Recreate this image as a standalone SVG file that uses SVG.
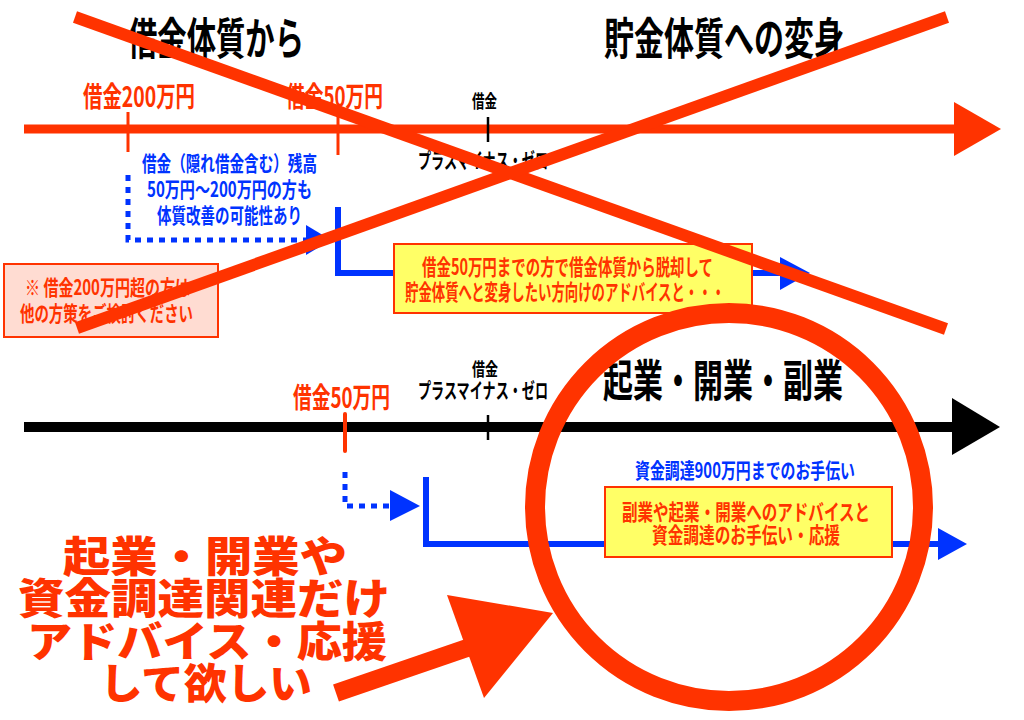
<svg xmlns="http://www.w3.org/2000/svg" width="1024" height="720" viewBox="0 0 1024 720">
<style>
text{font-family:"Noto Sans CJK JP","Noto Sans",sans-serif;font-weight:bold}
.blk{fill:#000}
.red{fill:#ff3300}
.blu{fill:#0033ff}
.big{font-weight:900;fill:#ff3300}
.box1{fill:#ffff66;stroke:#ff3300;stroke-width:2}
.pink{fill:#ffdcd2;stroke:#ff3300;stroke-width:2}
.dot{fill:none;stroke:#0033ff;stroke-width:5;stroke-dasharray:6 6}
.sol{fill:none;stroke:#0033ff;stroke-width:6}
.xl{stroke:#ff3300;stroke-width:12}
</style>
<rect width="1024" height="720" fill="#fff"/>

<g id="titles">
<text class="blk" x="128" y="55" font-size="44" textLength="176" lengthAdjust="spacingAndGlyphs">借金体質から</text>
<text class="blk" x="604" y="55" font-size="44" textLength="240" lengthAdjust="spacingAndGlyphs">貯金体質への変身</text>
</g>

<g id="connectors">
<!-- top timeline -->
<line x1="24" y1="129" x2="956" y2="129" stroke="#ff3300" stroke-width="9"/>
<polygon points="954,102 1001,129 954,156" fill="#ff3300"/>
<line x1="128" y1="112" x2="128" y2="152" stroke="#ff3300" stroke-width="3"/>
<line x1="338" y1="112" x2="338" y2="155" stroke="#ff3300" stroke-width="3"/>
<line x1="488" y1="117" x2="488" y2="142" stroke="#000" stroke-width="2.5"/>
<path class="dot" d="M128,175 V240 H306"/>
<polygon points="306,225 331,240 306,255" fill="#0033ff"/>
<path class="sol" d="M338,207 V273 H782"/>
<polygon points="780,257 810,273 780,290" fill="#0033ff"/>
<!-- bottom timeline -->
<line x1="24" y1="427" x2="954" y2="427" stroke="#000" stroke-width="10"/>
<polygon points="952,398 1000,427 952,455" fill="#000"/>
<line x1="488" y1="415" x2="488" y2="440" stroke="#000" stroke-width="2.5"/>
<line x1="345" y1="414" x2="345" y2="451" stroke="#ff3300" stroke-width="4" stroke-linecap="round"/>
<path class="dot" d="M345,472 V506 H390"/>
<polygon points="390,490 420,506 390,521" fill="#0033ff"/>
<path class="sol" d="M426,477 V544 H940"/>
<polygon points="938,528 967,544 938,560" fill="#0033ff"/>
</g>

<g id="top-labels">
<text class="red" x="83" y="107" font-size="28" textLength="112" lengthAdjust="spacingAndGlyphs">借金200万円</text>
<text class="red" x="286" y="107" font-size="28" textLength="97" lengthAdjust="spacingAndGlyphs">借金50万円</text>
<text class="blk" x="472" y="108" font-size="18" textLength="25" lengthAdjust="spacingAndGlyphs">借金</text>
<text class="blk" x="418" y="168" font-size="21" textLength="130" lengthAdjust="spacingAndGlyphs">プラスマイナス・ゼロ</text>
</g>

<g id="blue-note">
<text class="blu" x="142" y="171" font-size="21" textLength="175" lengthAdjust="spacingAndGlyphs">借金（隠れ借金含む）残高</text>
<text class="blu" x="147" y="197" font-size="21" textLength="165" lengthAdjust="spacingAndGlyphs">50万円～200万円の方も</text>
<text class="blu" x="157" y="223" font-size="21" textLength="145" lengthAdjust="spacingAndGlyphs">体質改善の可能性あり</text>
</g>

<g id="pink-note">
<rect class="pink" x="4" y="264" width="214" height="73"/>
<text class="red" x="25" y="295" font-size="21" textLength="165" lengthAdjust="spacingAndGlyphs">※ 借金200万円超の方は</text>
<text class="red" x="20" y="321" font-size="21" textLength="173" lengthAdjust="spacingAndGlyphs">他の方策をご検討ください</text>
</g>

<g id="yellow-box-1">
<rect class="box1" x="394" y="244" width="358" height="69"/>
<text class="red" x="422" y="275" font-size="22" textLength="291" lengthAdjust="spacingAndGlyphs">借金50万円までの方で借金体質から脱却して</text>
<text class="red" x="405" y="300" font-size="22" textLength="320" lengthAdjust="spacingAndGlyphs">貯金体質へと変身したい方向けのアドバイスと・・・</text>
</g>

<g id="cross-out">
<line class="xl" x1="75" y1="17" x2="946" y2="329"/>
<line class="xl" x1="77" y1="328" x2="947" y2="17"/>
</g>

<g id="bottom-labels">
<text class="red" x="293" y="408" font-size="28" textLength="97" lengthAdjust="spacingAndGlyphs">借金50万円</text>
<text class="blk" x="472" y="376" font-size="18" textLength="26" lengthAdjust="spacingAndGlyphs">借金</text>
<text class="blk" x="418" y="398" font-size="21" textLength="130" lengthAdjust="spacingAndGlyphs">プラスマイナス・ゼロ</text>
<text class="blk" x="603" y="397" font-size="44" textLength="240" lengthAdjust="spacingAndGlyphs">起業・開業・副業</text>
<text class="blu" x="635" y="478" font-size="21" textLength="220" lengthAdjust="spacingAndGlyphs">資金調達900万円までのお手伝い</text>
</g>

<g id="yellow-box-2">
<rect class="box1" x="605" y="487" width="287" height="70"/>
<text class="red" x="622" y="520" font-size="22" textLength="248" lengthAdjust="spacingAndGlyphs">副業や起業・開業へのアドバイスと</text>
<text class="red" x="652" y="543" font-size="22" textLength="188" lengthAdjust="spacingAndGlyphs">資金調達のお手伝い・応援</text>
</g>

<g id="highlight-circle">
<circle cx="729" cy="507" r="194" fill="none" stroke="#ff3300" stroke-width="20"/>
</g>

<g id="pointer-arrow">
<line x1="336" y1="693" x2="470" y2="647" stroke="#ff3300" stroke-width="18"/>
<polygon points="447,595 553,613 484,698" fill="#ff3300"/>
</g>

<g id="big-message">
<text class="big" x="63" y="572" font-size="42" textLength="284" lengthAdjust="spacingAndGlyphs">起業・開業や</text>
<text class="big" x="18" y="614" font-size="42" textLength="372" lengthAdjust="spacingAndGlyphs">資金調達関連だけ</text>
<text class="big" x="27" y="657" font-size="42" textLength="360" lengthAdjust="spacingAndGlyphs">アドバイス・応援</text>
<text class="big" x="100" y="699" font-size="42" textLength="212" lengthAdjust="spacingAndGlyphs">して欲しい</text>
</g>
</svg>
